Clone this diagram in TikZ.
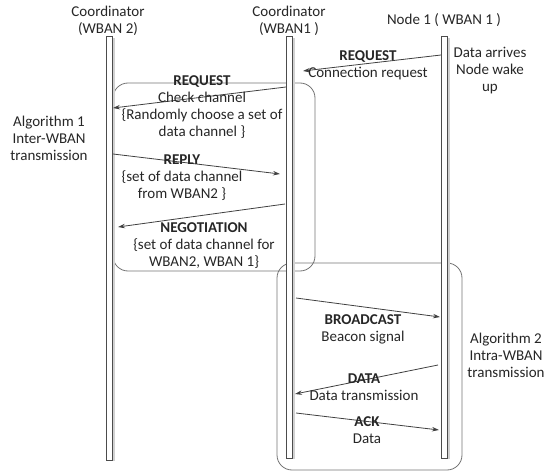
\documentclass[tikz,border=0pt]{standalone}
\usepackage{fontspec}
\setmainfont{Carlito}
\usetikzlibrary{arrows.meta}

\tikzset{
  lbl/.style={align=center, inner sep=0pt, text=black!85,
    font=\fontsize{15}{17}\selectfont},
  lifeline/.style={draw=black!70, fill=white, line width=0.7pt},
  lifeshade/.style={fill=black!18, draw=none},
  groupbox/.style={draw=black!55, line width=0.8pt, rounded corners=15pt},
  msg/.style={draw=black!75, line width=0.8pt,
    -{Stealth[length=7pt,width=4.5pt]}},
}

\begin{document}
\begin{tikzpicture}[x=1pt,y=-1pt]
\useasboundingbox (0,0) rectangle (550,471);

% grouping frames for the two algorithms
\draw[groupbox] (113,83) rectangle (315,271);
\draw[groupbox] (277,263) rectangle (462,470);

% lifelines with a light shade on the right
\fill[lifeshade] (112,38) rectangle (114.5,461);
\fill[lifeshade] (292,38) rectangle (294.5,459);
\fill[lifeshade] (447,38) rectangle (449.5,459);
\node[lifeline, minimum width=6pt, minimum height=424pt, inner sep=0pt] (w2) at (109,248) {};
\node[lifeline, minimum width=6pt, minimum height=422pt, inner sep=0pt] (w1) at (289,247) {};
\node[lifeline, minimum width=6pt, minimum height=422pt, inner sep=0pt] (n1) at (444,247) {};

% headers
\node[lbl] (hw2) at (108,21) {Coordinator\\(WBAN 2)};
\node[lbl] (hw1) at (289,21) {Coordinator\\(WBAN1 )};
\node[lbl] (hn1) at (444,20) {Node 1 ( WBAN 1 )};

% message end points
\coordinate (a1) at (441,55);  \coordinate (b1) at (303,71);
\coordinate (a2) at (286,87);  \coordinate (b2) at (113,108);
\coordinate (a3) at (113,154); \coordinate (b3) at (280,174);
\coordinate (a4) at (285,204); \coordinate (b4) at (118,227);
\coordinate (a5) at (296,298); \coordinate (b5) at (440,317);
\coordinate (a6) at (438,365); \coordinate (b6) at (295,394);
\coordinate (a7) at (296,413); \coordinate (b7) at (439,430);

% messages
\draw[msg] (a1) -- (b1);
\draw[msg] (a2) -- (b2);
\draw[msg] (a3) -- (b3);
\draw[msg] (a4) -- (b4);
\draw[msg] (a5) -- (b5);
\draw[msg] (a6) -- (b6);
\draw[msg] (a7) -- (b7);

% message labels
\node[lbl] (m1) at (368,65) {\textbf{REQUEST}\\Connection request};
\node[lbl] (m2) at (202,107) {\textbf{REQUEST}\\Check channel\\\{Randomly choose a set of\\data channel \}};
\node[lbl] (m3) at (182,178) {\textbf{REPLY}\\\{set of data channel\\from WBAN2 \}};
\node[lbl] (m4) at (204,246) {\textbf{NEGOTIATION}\\\{set of data channel for\\WBAN2, WBAN 1\}};
\node[lbl] (m5) at (363,329) {\textbf{BROADCAST}\\Beacon signal};
\node[lbl] (m6) at (364,387) {\textbf{DATA}\\Data transmission};
\node[lbl] (m7) at (367,430) {\textbf{ACK}\\Data};

% side notes
\node[lbl] (s1) at (490,71) {Data arrives\\Node wake\\up};
\node[lbl] (s2) at (49,138) {Algorithm 1\\Inter-WBAN\\transmission};
\node[lbl] (s3) at (506,355) {Algorithm 2\\Intra-WBAN\\transmission};
\end{tikzpicture}
\end{document}
